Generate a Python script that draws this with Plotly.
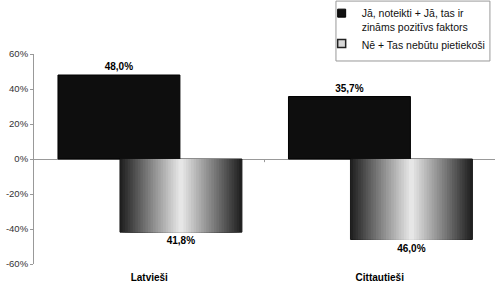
import plotly.graph_objects as go

# ---- data ----
categories = ["Latvieši", "Cittautieši"]
series_names = ["Jā, noteikti + Jā, tas ir<br>zināms pozitīvs faktors", "Nē + Tas nebūtu pietiekoši"]
yes_values = [48.0, 35.7]
no_values = [-41.8, -46.0]
tick_values = [-60, -40, -20, 0, 20, 40, 60]
tick_labels = ["-60%", "-40%", "-20%", "0%", "20%", "40%", "60%"]


def fmt(v):
    return f"{abs(v):.1f}".replace(".", ",") + "%"


FONT = "Liberation Sans, Arial, sans-serif"
BAR_W = 0.529
YES_OFF = -0.396
NO_OFF = -0.127

fig = go.Figure()

# dark series
fig.add_trace(go.Bar(
    x=categories, y=yes_values, width=BAR_W, offset=YES_OFF,
    marker=dict(color="#0e0e0e", line=dict(color="#000", width=1)),
    text=[fmt(v) for v in yes_values], textposition="outside",
    textfont=dict(family=FONT, size=10, color="#000"),
    cliponaxis=False, showlegend=False, hoverinfo="skip",
))

# gradient series (nested bars, dark edges -> light centre)
N = 24
no_centre = NO_OFF + BAR_W / 2
for k in range(N):
    w = BAR_W * (1 - k / N)
    d = 1 - (k + 0.5) / N
    g = int(round(234 - 205 * d))
    col = f"rgb({g},{g},{g})"
    outer = k == 0
    fig.add_trace(go.Bar(
        x=categories, y=no_values, width=w, offset=no_centre - w / 2,
        marker=dict(color=col, line=dict(color="#1a1a1a" if outer else col, width=1 if outer else 0)),
        text=[fmt(v) for v in no_values] if outer else None,
        textposition="outside" if outer else "none",
        textfont=dict(family=FONT, size=10, color="#000"),
        cliponaxis=False, showlegend=False, hoverinfo="skip",
    ))

# legend entries
fig.add_trace(go.Scatter(
    x=[None], y=[None], mode="markers", name=series_names[0],
    marker=dict(symbol="square", size=8, color="#111", line=dict(color="#000", width=1)),
))
fig.add_trace(go.Scatter(
    x=[None], y=[None], mode="markers", name=series_names[1],
    marker=dict(symbol="square", size=8, color="#d8d8d8", line=dict(color="#222", width=1.5)),
))

# small tick on zero line between categories
fig.add_shape(type="line", xref="x", yref="y", x0=0.5, x1=0.5, y0=0, y1=-1.8,
              line=dict(color="#999", width=1))
# legend frame
fig.add_shape(type="rect", xref="paper", yref="paper",
              x0=0.655, x1=0.989, y0=0.9667, y1=1.252,
              line=dict(color="#999", width=1), fillcolor="rgba(0,0,0,0)")

fig.update_layout(
    width=500, height=289,
    margin=dict(l=34, r=5, t=54, b=25, autoexpand=False),
    paper_bgcolor="white", plot_bgcolor="white",
    barmode="overlay",
    font=dict(family=FONT, size=10, color="#000"),
    showlegend=True,
    legend=dict(x=0.624, y=1.258, xanchor="left", yanchor="top",
                bgcolor="rgba(0,0,0,0)", borderwidth=0,
                font=dict(family=FONT, size=10.5, color="#111"),
                valign="top", itemsizing="trace"),
    xaxis=dict(range=[-0.5, 1.5], showgrid=False, showline=False, zeroline=False,
               ticks="", tickfont=dict(family=FONT, size=10, color="#000", weight="bold"),
               ticklabelstandoff=6, fixedrange=True),
    yaxis=dict(range=[-60, 60], tickvals=tick_values, ticktext=tick_labels,
               showgrid=False, showline=True, linecolor="#999", linewidth=1,
               zeroline=True, zerolinecolor="#999", zerolinewidth=1,
               ticks="outside", ticklen=3, tickcolor="#999",
               tickfont=dict(family=FONT, size=9.5, color="#333"), fixedrange=True),
)

fig.update_traces(selector=dict(type="bar"), textfont_weight="bold")

fig.write_html("out.html")
